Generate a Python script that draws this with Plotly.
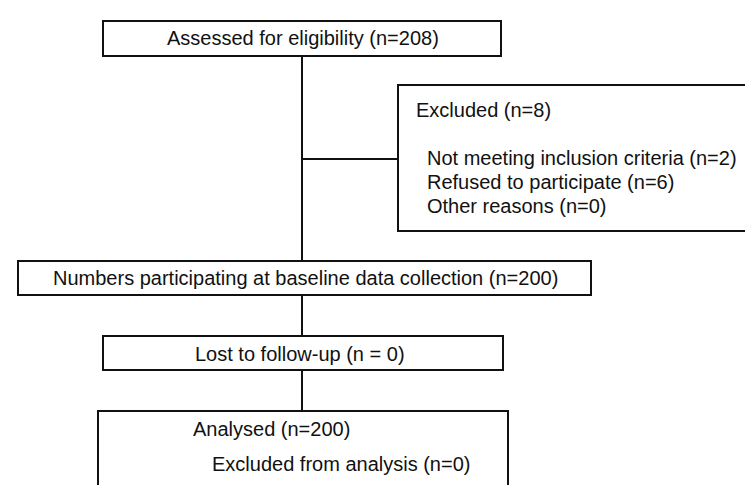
import plotly.graph_objects as go

# ---- data (flow counts and labels) ----
assessed_n = 208
excluded_n = 8
exclusion_reasons = ["Not meeting inclusion criteria", "Refused to participate", "Other reasons"]
exclusion_counts = [2, 6, 0]
baseline_n = 200
lost_n = 0
analysed_n = 200
excluded_analysis_n = 0

# ---- layout geometry (pixel-space, y downward) ----
W, H = 753, 485
boxes = {
    "assessed": (95, 13, 493, 48),
    "excluded": (390, 77, 750, 223),
    "baseline": (10, 253, 583, 287),
    "lost": (95, 328, 495, 362),
    "analysed": (90, 403, 500, 500),
}
spine_x = 294
branch_y = 151

FONT = dict(family="Liberation Sans, Arial, sans-serif", size=20, color="#111111")
LINE = dict(color="#111111", width=2)

shapes = []
for (x0, y0, x1, y1) in boxes.values():
    shapes.append(dict(type="rect", xref="x", yref="y", x0=x0, y0=y0, x1=x1, y1=y1,
                       line=LINE, fillcolor="rgba(0,0,0,0)"))

def vline(x, y0, y1):
    shapes.append(dict(type="line", xref="x", yref="y", x0=x, x1=x, y0=y0, y1=y1, line=LINE))

def hline(y, x0, x1):
    shapes.append(dict(type="line", xref="x", yref="y", x0=x0, x1=x1, y0=y, y1=y, line=LINE))

vline(spine_x, boxes["assessed"][3], boxes["baseline"][1])
hline(branch_y, spine_x, boxes["excluded"][0])
vline(spine_x, boxes["baseline"][3], boxes["lost"][1])
vline(spine_x, boxes["lost"][3], boxes["analysed"][1])

annotations = []

def txt(x, y, s, anchor="center"):
    annotations.append(dict(x=x, y=y, xref="x", yref="y", text=s, showarrow=False,
                            xanchor=anchor, yanchor="middle", font=FONT))

txt(295, 30, f"Assessed for eligibility (n={assessed_n})")
txt(406, 102, f"Excluded (n={excluded_n})", "left")
for i, (r, c) in enumerate(zip(exclusion_reasons, exclusion_counts)):
    txt(417, 150 + i * 24, f"{r} (n={c})", "left")
txt(297, 270, f"Numbers participating at baseline data collection (n={baseline_n})")
txt(292, 346, f"Lost to follow-up (n = {lost_n})")
txt(183, 421, f"Analysed (n={analysed_n})", "left")
txt(202, 456, f"Excluded from analysis (n={excluded_analysis_n})", "left")

fig = go.Figure()
fig.update_layout(
    width=W, height=H,
    margin=dict(l=0, r=0, t=0, b=0),
    paper_bgcolor="white", plot_bgcolor="white",
    xaxis=dict(range=[0, W], visible=False, fixedrange=True),
    yaxis=dict(range=[H, 0], visible=False, fixedrange=True),
    shapes=shapes, annotations=annotations, showlegend=False,
)
fig.write_html("out.html")
